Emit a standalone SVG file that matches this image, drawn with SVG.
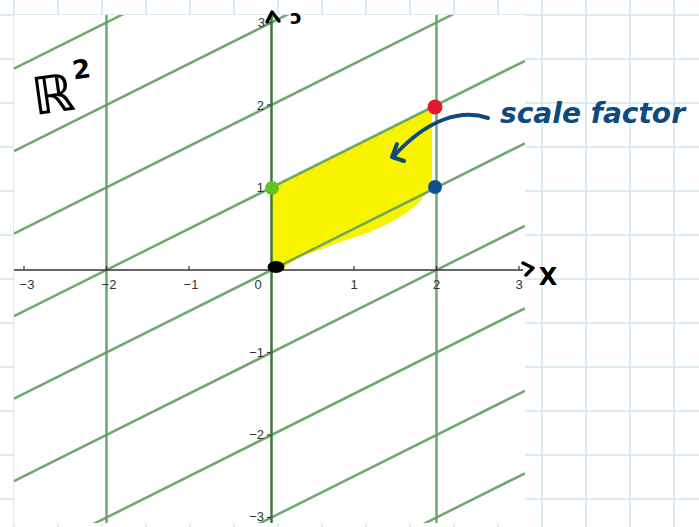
<svg xmlns="http://www.w3.org/2000/svg" width="699" height="527" viewBox="0 0 699 527">
<defs>
<style>
.grid{stroke:#cfe4f2;stroke-width:1.5}
.gl{stroke:#5f9e5f;stroke-width:2.5;fill:none;opacity:0.9}
.tick{stroke:#333;stroke-width:1.2}
.lab{font-family:"Liberation Sans",Arial,sans-serif;font-size:13px;fill:#333}
.hand{stroke:#000;stroke-width:3.5;fill:none;stroke-linecap:round;stroke-linejoin:round}
.blue{stroke:#0e4a80;stroke-width:4;fill:none;stroke-linecap:round;stroke-linejoin:round}
</style>
<clipPath id="plot"><rect x="14" y="15" width="511" height="508"/></clipPath>
</defs>
<rect width="699" height="527" fill="#ffffff"/>
<g id="paper-grid" class="grid">
<line x1="14" y1="0" x2="14" y2="527"/><line x1="58" y1="0" x2="58" y2="527"/><line x1="102" y1="0" x2="102" y2="527"/><line x1="146" y1="0" x2="146" y2="527"/><line x1="190" y1="0" x2="190" y2="527"/><line x1="234" y1="0" x2="234" y2="527"/><line x1="278" y1="0" x2="278" y2="527"/><line x1="322" y1="0" x2="322" y2="527"/><line x1="366" y1="0" x2="366" y2="527"/><line x1="410" y1="0" x2="410" y2="527"/><line x1="454" y1="0" x2="454" y2="527"/><line x1="498" y1="0" x2="498" y2="527"/><line x1="542" y1="0" x2="542" y2="527"/><line x1="586" y1="0" x2="586" y2="527"/><line x1="630" y1="0" x2="630" y2="527"/><line x1="674" y1="0" x2="674" y2="527"/>
<line x1="0" y1="15" x2="699" y2="15"/><line x1="0" y1="59" x2="699" y2="59"/><line x1="0" y1="103" x2="699" y2="103"/><line x1="0" y1="147" x2="699" y2="147"/><line x1="0" y1="191" x2="699" y2="191"/><line x1="0" y1="235" x2="699" y2="235"/><line x1="0" y1="279" x2="699" y2="279"/><line x1="0" y1="323" x2="699" y2="323"/><line x1="0" y1="367" x2="699" y2="367"/><line x1="0" y1="411" x2="699" y2="411"/><line x1="0" y1="455" x2="699" y2="455"/><line x1="0" y1="499" x2="699" y2="499"/>
</g>
<rect id="plot-area" x="14" y="15" width="511" height="508" fill="#ffffff"/>
<g id="region">
<path d="M271,188 L424,111 Q432,108 432,118 L432,183 Q425,200 405,214 Q385,226 365,234 L343,241 L300,257 L284,267 L276,271 L271,269 Z" fill="#f8f400"/>
</g>
<g id="lattice" clip-path="url(#plot)">
<line class="gl" x1="14" y1="68.75" x2="525" y2="-186.75"/>
<line class="gl" x1="14" y1="151.25" x2="525" y2="-104.25"/>
<line class="gl" x1="14" y1="233.75" x2="525" y2="-21.75"/>
<line class="gl" x1="14" y1="316.25" x2="525" y2="60.75"/>
<line class="gl" x1="14" y1="398.75" x2="525" y2="143.25"/>
<line class="gl" x1="14" y1="481.25" x2="525" y2="225.75"/>
<line class="gl" x1="14" y1="563.75" x2="525" y2="308.25"/>
<line class="gl" x1="14" y1="646.25" x2="525" y2="390.75"/>
<line class="gl" x1="14" y1="728.75" x2="525" y2="473.25"/>
<line class="gl" x1="106.5" y1="15" x2="106.5" y2="523"/>
<line class="gl" x1="436.5" y1="15" x2="436.5" y2="523"/>
</g>
<g id="x-axis">
<line x1="14" y1="270" x2="523" y2="270" stroke="#333" stroke-width="1.5"/>
<g class="tick">
<line x1="24" y1="266" x2="24" y2="270"/><line x1="106.5" y1="266" x2="106.5" y2="270"/><line x1="189" y1="266" x2="189" y2="270"/><line x1="354" y1="266" x2="354" y2="270"/><line x1="436.5" y1="266" x2="436.5" y2="270"/><line x1="519" y1="266" x2="519" y2="270"/>
</g>
<g class="lab" text-anchor="middle">
<text x="27" y="289">−3</text><text x="109" y="289">−2</text><text x="191" y="289">−1</text><text x="258" y="289">0</text><text x="354" y="289">1</text><text x="436.5" y="289">2</text><text x="519" y="289">3</text>
</g>
<path class="hand" d="M523,263 L533,268 L526,275"/>
<text x="548" y="285" text-anchor="middle" font-family="DejaVu Sans,sans-serif" font-weight="bold" font-size="24" fill="#000">X</text>
</g>
<g id="y-axis">
<line x1="271.5" y1="16" x2="271.5" y2="523" stroke="#3a773a" stroke-width="2.5"/>
<g class="tick">
<line x1="267" y1="22.5" x2="271" y2="22.5"/><line x1="267" y1="105" x2="271" y2="105"/><line x1="267" y1="187.5" x2="271" y2="187.5"/><line x1="267" y1="352.5" x2="271" y2="352.5"/><line x1="267" y1="435" x2="271" y2="435"/><line x1="267" y1="517.5" x2="271" y2="517.5"/>
</g>
<g class="lab" text-anchor="end">
<text x="265" y="27">3</text><text x="264" y="110">2</text><text x="264" y="192">1</text><text x="264" y="357">−1</text><text x="264" y="439">−2</text><text x="264" y="521">−3</text>
</g>
<path class="hand" d="M267,22 L272,12 L279,21"/>
<text x="296" y="24" text-anchor="middle" font-family="DejaVu Sans,sans-serif" font-weight="bold" font-size="20" fill="#000">ɔ</text>
</g>
<g id="point-origin"><ellipse cx="276" cy="267" rx="8.5" ry="6" fill="#000"/></g>
<g id="point-e2"><circle cx="272" cy="188" r="7" fill="#62c21e"/></g>
<g id="point-e1"><circle cx="435" cy="187" r="7" fill="#10528f"/></g>
<g id="point-sum"><circle cx="435" cy="107" r="7.5" fill="#e4172b"/></g>
<g id="label-R2">
<text x="32" y="113" font-family="DejaVu Sans,sans-serif" font-weight="bold" font-size="52" fill="#000" transform="rotate(-8 50 95)">ℝ<tspan font-size="26" dx="2" dy="-30">2</tspan></text>
</g>
<g id="label-scale">
<text x="500" y="123" font-family="DejaVu Sans,sans-serif" font-style="italic" font-weight="bold" font-size="28" fill="#0e4a80" textLength="185" lengthAdjust="spacingAndGlyphs">scale factor</text>
</g>
<g id="connectors">
<path class="blue" d="M488,118 C462,109 428,118 393,157"/>
<path class="blue" d="M397,144 L392,157 L404,161"/>
</g>
</svg>
